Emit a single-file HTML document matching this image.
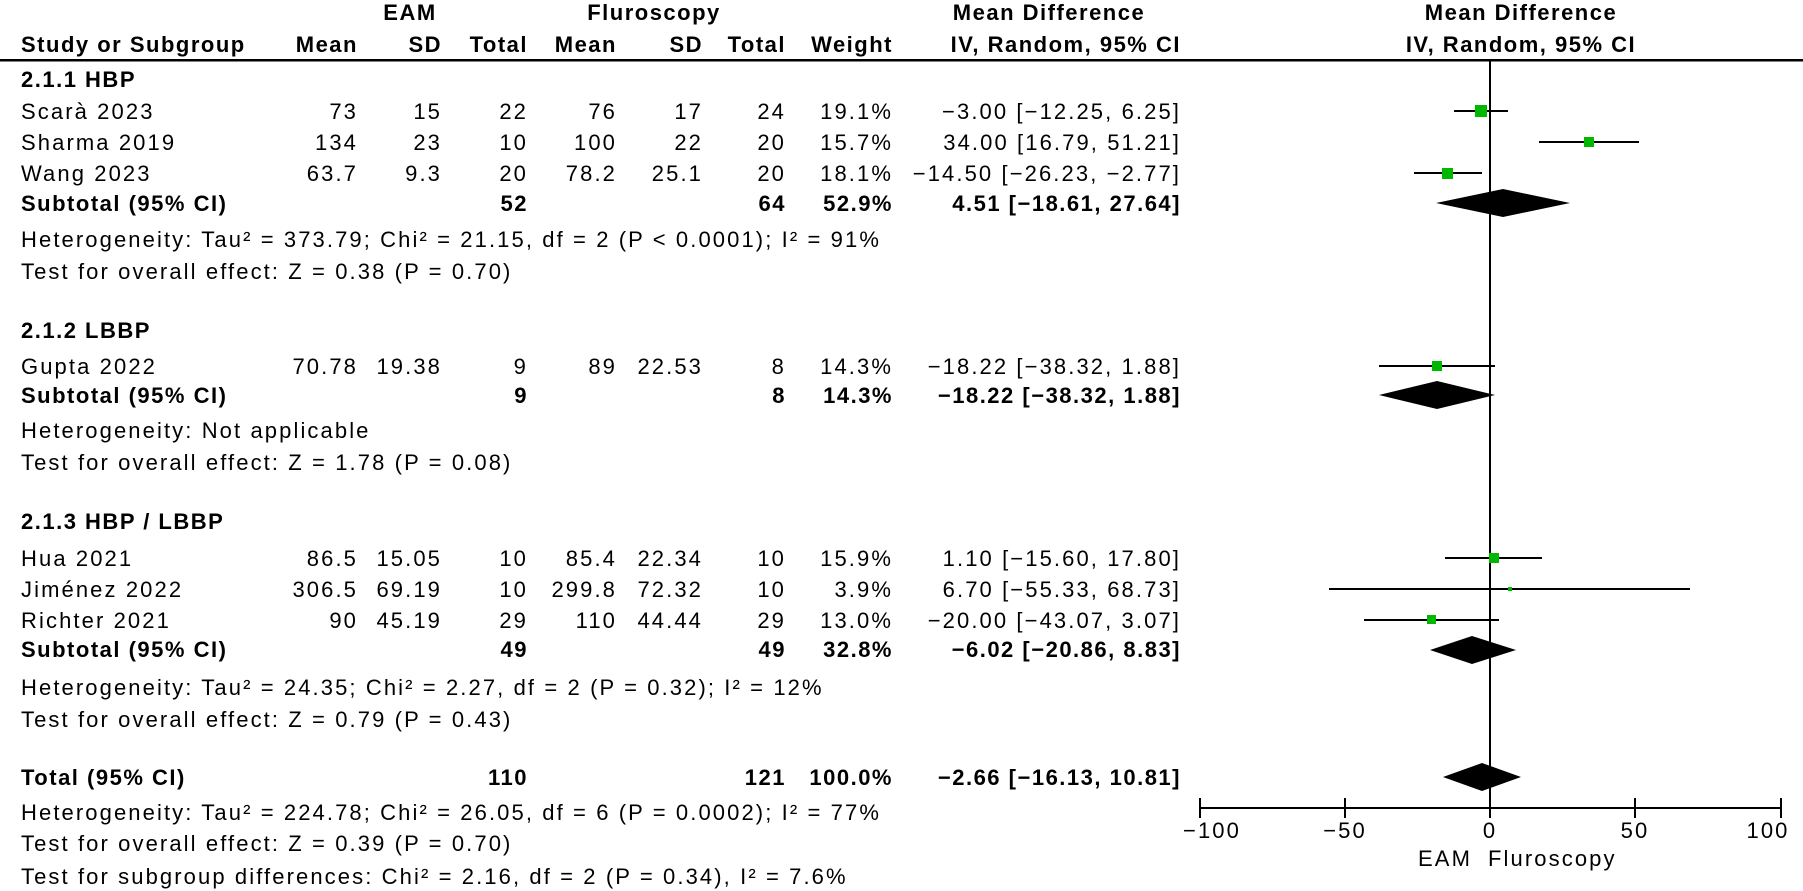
<!DOCTYPE html>
<html><head><meta charset="utf-8"><style>
html,body{margin:0;padding:0;background:#fff;}
svg{display:block;}
text{font-family:"Liberation Sans","DejaVu Sans",sans-serif;font-size:22px;letter-spacing:2.1px;fill:#000;}
.b{font-weight:bold;letter-spacing:1.5px;}
.r{text-anchor:end;transform:translateX(2px);}
.c{text-anchor:middle;}
</style></head><body>
<svg width="1803" height="891" viewBox="0 0 1803 891" xmlns="http://www.w3.org/2000/svg">
<text class="b c" x="410" y="20">EAM</text>
<text class="b c" x="654" y="20">Fluroscopy</text>
<text class="b c" x="1049" y="20">Mean Difference</text>
<text class="b c" x="1521" y="20">Mean Difference</text>
<text class="b" x="21" y="52">Study or Subgroup</text>
<text class="b r" x="356" y="52">Mean</text>
<text class="b r" x="440" y="52">SD</text>
<text class="b r" x="526" y="52">Total</text>
<text class="b r" x="615" y="52">Mean</text>
<text class="b r" x="701" y="52">SD</text>
<text class="b r" x="784" y="52">Total</text>
<text class="b r" x="891" y="52">Weight</text>
<text class="b r" x="1179" y="52">IV, Random, 95% CI</text>
<text class="b c" x="1521" y="52">IV, Random, 95% CI</text>
<rect x="0" y="59" width="1803" height="2.5" fill="#000"/>

<text class="b" x="21" y="87">2.1.1 HBP</text>
<text x="21" y="119">Scarà 2023</text><text class="r" x="356" y="119">73</text><text class="r" x="440" y="119">15</text><text class="r" x="526" y="119">22</text><text class="r" x="615" y="119">76</text><text class="r" x="701" y="119">17</text><text class="r" x="784" y="119">24</text><text class="r" x="891" y="119">19.1%</text><text class="r" x="1179" y="119">−3.00 [−12.25, 6.25]</text>
<text x="21" y="150">Sharma 2019</text><text class="r" x="356" y="150">134</text><text class="r" x="440" y="150">23</text><text class="r" x="526" y="150">10</text><text class="r" x="615" y="150">100</text><text class="r" x="701" y="150">22</text><text class="r" x="784" y="150">20</text><text class="r" x="891" y="150">15.7%</text><text class="r" x="1179" y="150">34.00 [16.79, 51.21]</text>
<text x="21" y="181">Wang 2023</text><text class="r" x="356" y="181">63.7</text><text class="r" x="440" y="181">9.3</text><text class="r" x="526" y="181">20</text><text class="r" x="615" y="181">78.2</text><text class="r" x="701" y="181">25.1</text><text class="r" x="784" y="181">20</text><text class="r" x="891" y="181">18.1%</text><text class="r" x="1179" y="181">−14.50 [−26.23, −2.77]</text>
<text class="b" x="21" y="211">Subtotal (95% CI)</text><text class="b r" x="526" y="211">52</text><text class="b r" x="784" y="211">64</text><text class="b r" x="891" y="211">52.9%</text><text class="b r" x="1179" y="211">4.51 [−18.61, 27.64]</text>
<text x="21" y="247">Heterogeneity: Tau² = 373.79; Chi² = 21.15, df = 2 (P &lt; 0.0001); I² = 91%</text>
<text x="21" y="279">Test for overall effect: Z = 0.38 (P = 0.70)</text>

<text class="b" x="21" y="338">2.1.2 LBBP</text>
<text x="21" y="374">Gupta 2022</text><text class="r" x="356" y="374">70.78</text><text class="r" x="440" y="374">19.38</text><text class="r" x="526" y="374">9</text><text class="r" x="615" y="374">89</text><text class="r" x="701" y="374">22.53</text><text class="r" x="784" y="374">8</text><text class="r" x="891" y="374">14.3%</text><text class="r" x="1179" y="374">−18.22 [−38.32, 1.88]</text>
<text class="b" x="21" y="403">Subtotal (95% CI)</text><text class="b r" x="526" y="403">9</text><text class="b r" x="784" y="403">8</text><text class="b r" x="891" y="403">14.3%</text><text class="b r" x="1179" y="403">−18.22 [−38.32, 1.88]</text>
<text x="21" y="438">Heterogeneity: Not applicable</text>
<text x="21" y="470">Test for overall effect: Z = 1.78 (P = 0.08)</text>

<text class="b" x="21" y="529">2.1.3 HBP / LBBP</text>
<text x="21" y="566">Hua 2021</text><text class="r" x="356" y="566">86.5</text><text class="r" x="440" y="566">15.05</text><text class="r" x="526" y="566">10</text><text class="r" x="615" y="566">85.4</text><text class="r" x="701" y="566">22.34</text><text class="r" x="784" y="566">10</text><text class="r" x="891" y="566">15.9%</text><text class="r" x="1179" y="566">1.10 [−15.60, 17.80]</text>
<text x="21" y="597">Jiménez 2022</text><text class="r" x="356" y="597">306.5</text><text class="r" x="440" y="597">69.19</text><text class="r" x="526" y="597">10</text><text class="r" x="615" y="597">299.8</text><text class="r" x="701" y="597">72.32</text><text class="r" x="784" y="597">10</text><text class="r" x="891" y="597">3.9%</text><text class="r" x="1179" y="597">6.70 [−55.33, 68.73]</text>
<text x="21" y="628">Richter 2021</text><text class="r" x="356" y="628">90</text><text class="r" x="440" y="628">45.19</text><text class="r" x="526" y="628">29</text><text class="r" x="615" y="628">110</text><text class="r" x="701" y="628">44.44</text><text class="r" x="784" y="628">29</text><text class="r" x="891" y="628">13.0%</text><text class="r" x="1179" y="628">−20.00 [−43.07, 3.07]</text>
<text class="b" x="21" y="657">Subtotal (95% CI)</text><text class="b r" x="526" y="657">49</text><text class="b r" x="784" y="657">49</text><text class="b r" x="891" y="657">32.8%</text><text class="b r" x="1179" y="657">−6.02 [−20.86, 8.83]</text>
<text x="21" y="695">Heterogeneity: Tau² = 24.35; Chi² = 2.27, df = 2 (P = 0.32); I² = 12%</text>
<text x="21" y="727">Test for overall effect: Z = 0.79 (P = 0.43)</text>

<text class="b" x="21" y="785">Total (95% CI)</text><text class="b r" x="526" y="785">110</text><text class="b r" x="784" y="785">121</text><text class="b r" x="891" y="785">100.0%</text><text class="b r" x="1179" y="785">−2.66 [−16.13, 10.81]</text>
<text x="21" y="820">Heterogeneity: Tau² = 224.78; Chi² = 26.05, df = 6 (P = 0.0002); I² = 77%</text>
<text x="21" y="851">Test for overall effect: Z = 0.39 (P = 0.70)</text>
<text x="21" y="884">Test for subgroup differences: Chi² = 2.16, df = 2 (P = 0.34), I² = 7.6%</text>

<line x1="1490" y1="61" x2="1490" y2="808" stroke="#000" stroke-width="2"/>
<g stroke="#000" stroke-width="2">
<line x1="1454" y1="111" x2="1508" y2="111"/>
<line x1="1539" y1="142" x2="1639" y2="142"/>
<line x1="1414" y1="173" x2="1482" y2="173"/>
<line x1="1379" y1="366" x2="1495" y2="366"/>
<line x1="1445" y1="558" x2="1542" y2="558"/>
<line x1="1329" y1="589" x2="1690" y2="589"/>
<line x1="1364" y1="620" x2="1499" y2="620"/>
</g>
<g fill="#00b800">
<rect x="1475" y="105" width="12" height="12"/>
<rect x="1584" y="137" width="10" height="10"/>
<rect x="1442" y="168" width="11" height="11"/>
<rect x="1432" y="361" width="10" height="10"/>
<rect x="1489" y="553" width="10" height="10"/>
<rect x="1508" y="587" width="4" height="4"/>
<rect x="1427" y="615" width="9" height="9"/>
</g>
<g fill="#000">
<polygon points="1436,203 1503,189 1570,203 1503,217"/>
<polygon points="1379,395 1437,381 1495,395 1437,409"/>
<polygon points="1430,650 1472,636 1516,650 1472,664"/>
<polygon points="1443,777 1482,763 1521,777 1482,791"/>
</g>
<line x1="1199" y1="808" x2="1782" y2="808" stroke="#000" stroke-width="2"/>
<g stroke="#000" stroke-width="2">
<line x1="1200" y1="798" x2="1200" y2="818"/>
<line x1="1345" y1="798" x2="1345" y2="818"/>
<line x1="1490" y1="798" x2="1490" y2="818"/>
<line x1="1635" y1="798" x2="1635" y2="818"/>
<line x1="1781" y1="798" x2="1781" y2="818"/>
</g>
<text class="c" x="1212" y="838">−100</text>
<text class="c" x="1345" y="838">−50</text>
<text class="c" x="1490" y="838">0</text>
<text class="c" x="1635" y="838">50</text>
<text class="c" x="1768" y="838">100</text>
<text class="r" x="1470" y="866">EAM</text>
<text x="1488" y="866">Fluroscopy</text>
</svg>
</body></html>
